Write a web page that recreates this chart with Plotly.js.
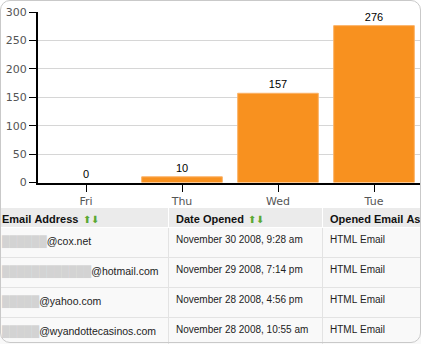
<!DOCTYPE html>
<html>
<head>
<meta charset="utf-8">
<script src="https://cdn.plot.ly/plotly-3.0.1.min.js"></script>
<style>
html,body{margin:0;padding:0;background:#fff;}
#wrap{position:relative;width:421px;height:344px;overflow:hidden;background:#fff;}
#plot{position:absolute;left:-6px;top:0;width:433px;height:350px;}
#frame{position:absolute;left:0;top:0;width:421px;height:343px;box-sizing:border-box;border:1px solid #c9c9c9;border-radius:10px;pointer-events:none;}
</style>
</head>
<body>
<div id="wrap"><div id="plot"></div><div id="frame"></div></div>
<script>
// ---- data ----
const days = ['Fri', 'Thu', 'Wed', 'Tue'];
const opens = [0, 10, 157, 276];
const yTicks = [0, 50, 100, 150, 200, 250, 300];
const boundaries = [0.5, 1.5, 2.5];

const headers = ['Email Address', 'Date Opened', 'Opened Email As'];
const sortIcons = ['⬆⬇', '⬆⬇', ''];
const emailMasks = ['██████', '████████████', '█████', '█████'];
const emailDomains = ['@cox.net', '@hotmail.com', '@yahoo.com', '@wyandottecasinos.com'];
const dates = ['November 30 2008, 9:28 am', 'November 29 2008, 7:14 pm', 'November 28 2008, 4:56 pm', 'November 28 2008, 10:55 am'];
const formats = ['HTML Email', 'HTML Email', 'HTML Email', 'HTML Email'];

// ---- geometry helpers (figure is 433x350, shifted 6px left) ----
const W = 433, H = 350;
const px = x => (x + 6) / W;
const py = y => 1 - y / H;
const NB = '\u00a0';
const nb = s => s.split(' ').join(NB);   // keep Plotly table from wrapping
const iconPad = [29, 26, 0];             // nbsp indent of the sort icons after each header label

const emailText = emailDomains.map((d, i) => '<a href="#"style="color:#d3d3d3">' + emailMasks[i] + '</a>' + d);
const tableFont = 'Liberation Sans, Arial, sans-serif';
const colW = [174, 154, 105];
const tableDomain = {x: [0, 1], y: [0, py(207)]};

const bars = {
  type: 'bar',
  x: days,
  y: opens,
  xaxis: 'x', yaxis: 'y',
  marker: {color: '#f8911f', line: {color: '#fbb266', width: opens.map(v => v ? 1 : 0)}},
  text: opens.map(String),
  textposition: 'outside',
  cliponaxis: false,
  textfont: {family: tableFont, size: 11, color: '#000'},
  hoverinfo: 'none'
};

const table = {
  type: 'table',
  domain: tableDomain,
  columnwidth: colW,
  header: {
    values: headers.map(nb),
    align: 'left',
    height: 20,
    fill: {color: '#ebebeb'},
    line: {color: '#ffffff', width: 1},
    font: {family: tableFont, size: 11, color: '#111', weight: 'bold'}
  },
  cells: {
    values: [emailText, dates.map(nb), formats.map(nb)],
    align: 'left',
    height: 30,
    fill: {color: '#f9f9f9'},
    line: {color: '#e3e3e3', width: 1},
    font: {family: tableFont, size: [10.5, 10, 10], color: '#222'}
  }
};

// green sort arrows, drawn as a transparent header layer over the table
const iconLayer = {
  type: 'table',
  domain: tableDomain,
  columnwidth: colW,
  header: {
    values: sortIcons.map((s, i) => NB.repeat(iconPad[i]) + s),
    align: 'left',
    height: 20,
    fill: {color: 'rgba(0,0,0,0)'},
    line: {color: 'rgba(0,0,0,0)', width: 0},
    font: {family: tableFont, size: 10, color: '#5aa832'}
  },
  cells: {
    values: [[], [], []],
    fill: {color: 'rgba(0,0,0,0)'},
    line: {color: 'rgba(0,0,0,0)', width: 0}
  }
};

const layout = {
  width: W, height: H,
  margin: {l: 0, r: 0, t: 0, b: 0},
  paper_bgcolor: 'rgba(0,0,0,0)',
  plot_bgcolor: '#fff',
  showlegend: false,
  bargap: 0.16,
  font: {family: 'DejaVu Sans, Verdana, sans-serif', size: 11, color: '#555'},
  xaxis: {
    type: 'category',
    domain: [px(38), px(422)],
    range: [-0.5, 3.5],
    anchor: 'y',
    showline: true, linecolor: '#000', linewidth: 2,
    ticks: 'outside', ticklen: 7, tickcolor: '#000', tickwidth: 1,
    showgrid: false, zeroline: false,
    tickfont: {family: 'DejaVu Sans, Verdana, sans-serif', size: 11, color: '#555'}
  },
  xaxis2: {
    type: 'linear',
    overlaying: 'x',
    anchor: 'y',
    domain: [px(38), px(422)],
    range: [-0.5, 3.5],
    tickvals: boundaries,
    showticklabels: false,
    ticks: '',
    showgrid: true, gridcolor: '#d6d6d6', gridwidth: 1,
    showline: false, zeroline: false
  },
  yaxis: {
    domain: [py(182.5), py(12)],
    range: [0, 300],
    anchor: 'x',
    tickvals: yTicks,
    showline: true, linecolor: '#000', linewidth: 2,
    ticks: 'outside', ticklen: 7, tickcolor: '#000', tickwidth: 1,
    showgrid: true, gridcolor: '#d6d6d6', gridwidth: 1,
    zeroline: false,
    tickfont: {family: 'DejaVu Sans, Verdana, sans-serif', size: 11, color: '#555'}
  }
};

Plotly.newPlot('plot', [bars, table, iconLayer], layout, {staticPlot: true, displayModeBar: false});
</script>
</body>
</html>
